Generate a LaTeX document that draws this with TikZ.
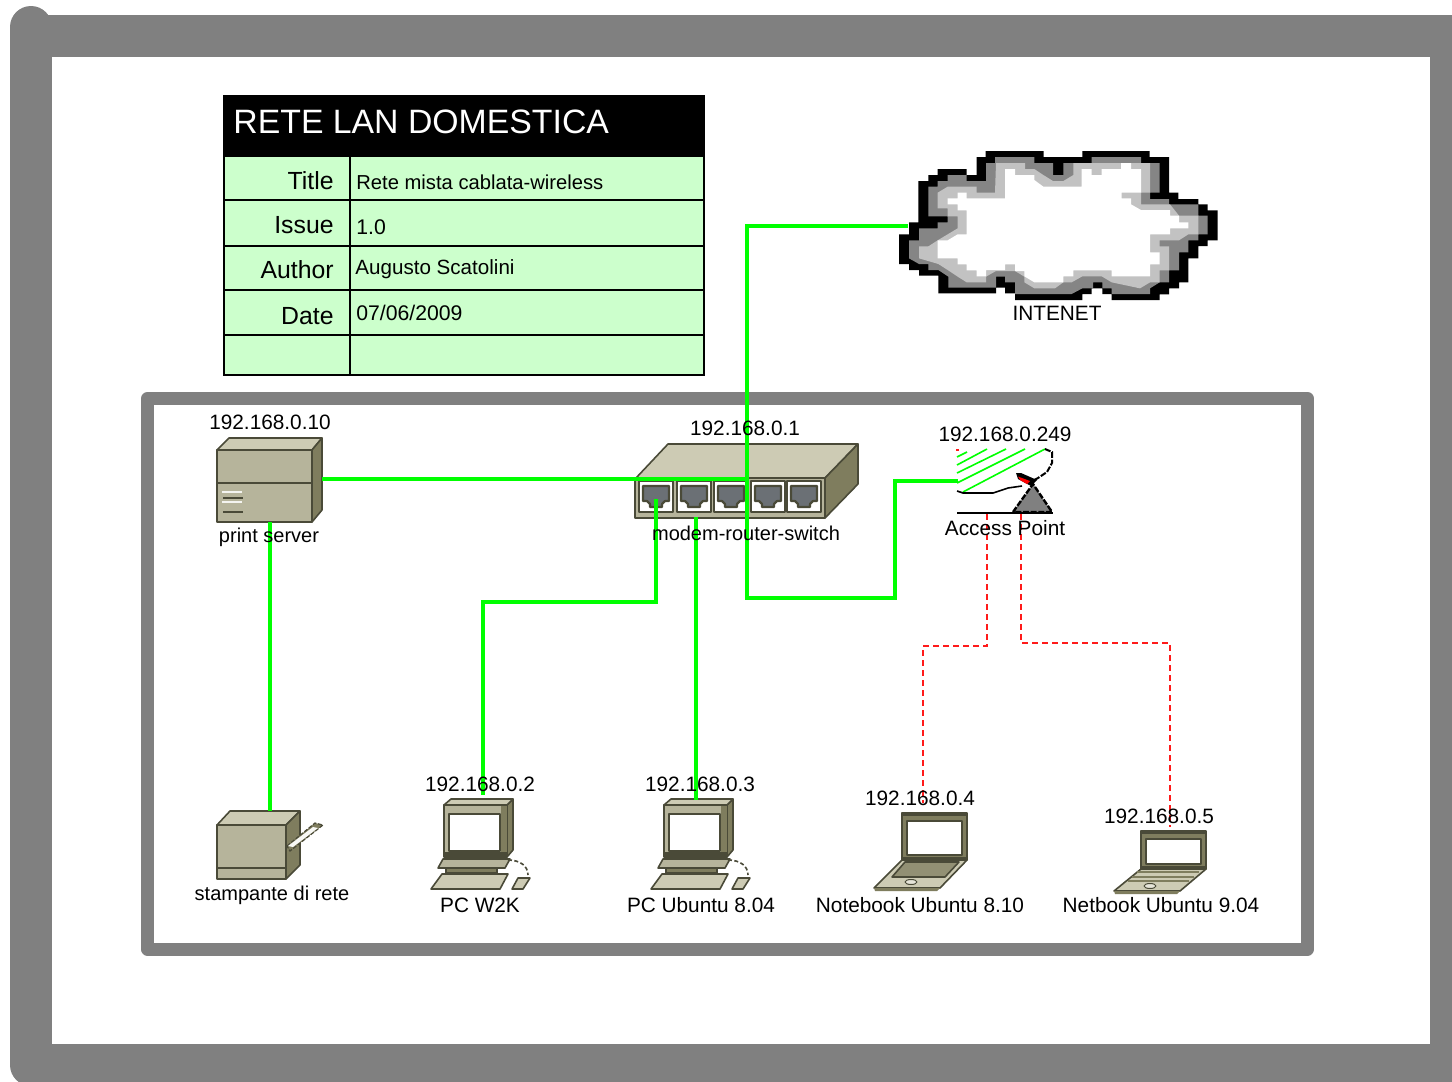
\documentclass[tikz,border=0pt]{standalone}
\usepackage{fontspec}
\setmainfont{Liberation Sans}
\usepackage{xcolor}
\usetikzlibrary{calc}
\usetikzlibrary{positioning}
\definecolor{FrameGray}{HTML}{808080}
\definecolor{RowGreen}{HTML}{CCFFCC}
\definecolor{LinkGreen}{HTML}{00FF00}
\definecolor{LinkRed}{HTML}{FF1A1A}
\definecolor{BoxTop}{HTML}{CDCBB4}
\definecolor{BoxFront}{HTML}{B6B49B}
\definecolor{BoxSide}{HTML}{7F7D5E}
\definecolor{BoxLine}{HTML}{4A4A38}
\definecolor{PortGray}{HTML}{6B7075}
\definecolor{CloudMid}{HTML}{858585}
\definecolor{CloudLight}{HTML}{C2C2C2}
\tikzset{
  icon/.style={draw=BoxLine,line width=0.8pt,line join=round},
  lanlink/.style={LinkGreen,line width=2pt},
  wifilink/.style={LinkRed,line width=1pt,dash pattern=on 3pt off 2pt},
  devtext/.style={inner sep=0pt,font=\fontsize{10.4}{12}\selectfont},
  devsmall/.style={inner sep=0pt,font=\fontsize{10}{12}\selectfont},
  rowname/.style={inner sep=0pt,anchor=east,font=\fontsize{12.4}{14}\selectfont},
  rowtext/.style={inner sep=0pt,anchor=west,font=\fontsize{10.6}{13}\selectfont},
  pcicon/.pic={
    \filldraw[icon,fill=BoxSide] (507,805) -- (513,799) -- (513,850) -- (507,857) -- cycle;
    \filldraw[icon,fill=BoxTop] (444,805) -- (451,799) -- (513,799) -- (507,805) -- cycle;
    \filldraw[icon,fill=BoxFront] (444,805) rectangle (507,857);
    \fill[BoxSide] (501,806) rectangle (506.5,856);
    \fill[BoxLine] (444.5,852) rectangle (506.5,857);
    \filldraw[icon,fill=white] (449,814) rectangle (500,851);
    \filldraw[icon,fill=BoxFront] (438,868) -- (443,859) -- (510,859) -- (505,868) -- cycle;
    \filldraw[icon,fill=BoxSide] (446,868) rectangle (497,873);
    \filldraw[icon,fill=BoxTop] (431,889) -- (442,874) -- (508,874) -- (500,889) -- cycle;
    \filldraw[icon,fill=BoxTop] (512,889) -- (518,878) -- (530,878) -- (523,889) -- cycle;
    \draw[BoxLine,line width=0.8pt,dash pattern=on 2pt off 1.2pt] (508,860) .. controls (520,860) and (528,866) .. (528,875);
  },
}
\newcommand{\laptopicon}[6]{%
  % left, right, screen top, hinge, deck front, deck left
  \filldraw[icon,fill=BoxSide] (#1,#3) rectangle (#2,#4);
  \fill[BoxLine] (#1,#3) rectangle (#2,#3+3);
  \filldraw[icon,fill=white] (#1+5,#3+8) rectangle (#2-5,#4-5);
  \fill[BoxLine] (#1,#4-3) rectangle (#2,#4);
  \filldraw[icon,fill=BoxTop] (#5,#6) -- (#1,#4) -- (#2,#4) -- (#5+66,#6) -- cycle;
  \fill[BoxSide] (#5,#6) -- (#5+66,#6) -- (#5+63,#6+3) -- (#5+1,#6+3) -- cycle;
}

\begin{document}
\begin{tikzpicture}[x=0.5pt,y=-0.5pt]
  \useasboundingbox (0,0) rectangle (1452,1082);
  \clip (0,0) rectangle (1452,1082);
  \fill[white] (0,0) rectangle (1452,1082);

  % outer and inner frames
  \draw[FrameGray,line width=21pt,line cap=round,line join=round]
    (31,27) -- (31,1065) -- (1451,1065) -- (1451,35.5) -- (31,35.5);
  \draw[FrameGray,line width=6.5pt,line join=round] (147.5,398.5) rectangle (1307.5,949);

  % data table
  \fill[RowGreen] (224,157) rectangle (704,375);
  \fill[black] (224,96) rectangle (704,157);
  \foreach \y in {200,246,290,335,375}{%
    \draw[black,line width=0.6pt] (224,\y) -- (704,\y);
  }
  \draw[black,line width=0.6pt] (224,96) rectangle (704,375);
  \draw[black,line width=0.6pt] (350,157) -- (350,375);
  \node[inner sep=0pt,anchor=west,white,font=\fontsize{16.9}{20}\selectfont] (TableHead) at (233,122) {RETE LAN DOMESTICA};
  \foreach \name/\y/\txt in {RowA/181/Title,RowB/225/Issue,RowC/270/Author,RowD/316/Date}{%
    \node[rowname] (\name) at (334,\y) {\txt};
  }
  \node[rowtext,font=\fontsize{10.1}{13}\selectfont] (ValA) at (356,182) {Rete mista cablata-wireless};
  \node[rowtext] (ValB) at (356,227) {1.0};
  \node[rowtext,font=\fontsize{10.3}{13}\selectfont] (ValC) at (355,269) {Augusto Scatolini};
  \node[rowtext] (ValD) at (356,313) {07/06/2009};

  % cloud, traced in 3x pixels of its own box
  \begin{scope}[shift={(895,145)},x=0.16667pt,y=-0.16667pt]
    \fill[black] (272,18) -- (446,18) -- (446,36) -- (562,36) -- (562,18) -- (764,18) -- (764,36) -- (822,36) -- (822,143) -- (850,143) -- (850,162) -- (910,162) -- (910,178) -- (938,178) -- (938,196) -- (968,196) -- (968,286) -- (938,286) -- (938,303) -- (910,303) -- (910,340) -- (880,340) -- (880,412) -- (852,412) -- (852,430) -- (822,430) -- (822,448) -- (794,448) -- (794,465) -- (650,465) -- (650,447) -- (622,447) -- (622,430) -- (590,430) -- (590,447) -- (562,447) -- (562,465) -- (360,465) -- (360,445) -- (330,445) -- (330,428) -- (303,428) -- (303,445) -- (130,445) -- (130,392) -- (72,392) -- (72,375) -- (42,375) -- (42,357) -- (12,357) -- (12,268) -- (42,268) -- (42,232) -- (70,232) -- (70,108) -- (100,108) -- (100,90) -- (128,90) -- (128,72) -- (215,72) -- (215,90) -- (245,90) -- (245,36) -- (272,36) -- cycle;
    \fill[CloudMid] (300,36) -- (418,36) -- (418,54) -- (474,54) -- (474,90) -- (505,90) -- (505,54) -- (590,54) -- (590,36) -- (738,36) -- (738,54) -- (794,54) -- (794,143) -- (765,143) -- (765,162) -- (822,162) -- (822,178) -- (910,178) -- (910,212) -- (938,212) -- (938,268) -- (910,268) -- (910,286) -- (880,286) -- (880,322) -- (852,322) -- (852,376) -- (822,376) -- (822,412) -- (794,412) -- (765,430) -- (765,447) -- (650,447) -- (650,430) -- (622,430) -- (622,412) -- (594,412) -- (594,430) -- (562,430) -- (530,447) -- (360,447) -- (360,412) -- (330,412) -- (330,395) -- (303,395) -- (303,428) -- (160,428) -- (160,395) -- (130,375) -- (100,375) -- (100,357) -- (72,357) -- (42,340) -- (42,286) -- (72,286) -- (72,250) -- (128,250) -- (128,232) -- (158,232) -- (158,214) -- (100,214) -- (100,125) -- (128,125) -- (128,108) -- (158,108) -- (158,90) -- (215,90) -- (215,108) -- (273,108) -- (273,54) -- (300,54) -- cycle;
    \fill[CloudLight] (303,54) -- (390,54) -- (390,72) -- (418,72) -- (445,90) -- (474,108) -- (505,108) -- (535,90) -- (535,54) -- (765,54) -- (765,143) -- (738,143) -- (738,178) -- (825,178) -- (852,212) -- (910,212) -- (910,268) -- (880,268) -- (852,286) -- (794,286) -- (794,304) -- (822,304) -- (822,376) -- (794,376) -- (794,412) -- (765,412) -- (735,430) -- (650,412) -- (620,394) -- (562,394) -- (530,412) -- (505,412) -- (480,430) -- (418,430) -- (388,412) -- (388,395) -- (360,378) -- (303,378) -- (273,395) -- (273,412) -- (215,412) -- (188,395) -- (158,375) -- (130,357) -- (72,340) -- (72,304) -- (100,304) -- (128,286) -- (158,268) -- (188,250) -- (188,214) -- (158,214) -- (158,190) -- (128,190) -- (128,143) -- (158,125) -- (245,125) -- (245,143) -- (300,143) -- cycle;
    \fill[white] (330,72) -- (360,72) -- (360,90) -- (418,90) -- (418,105) -- (445,125) -- (560,125) -- (560,72) -- (590,72) -- (590,90) -- (620,90) -- (620,72) -- (678,72) -- (678,54) -- (708,54) -- (708,72) -- (738,72) -- (738,143) -- (680,143) -- (680,160) -- (708,160) -- (708,178) -- (738,195) -- (825,195) -- (825,212) -- (852,212) -- (852,232) -- (880,232) -- (880,250) -- (825,250) -- (825,268) -- (765,268) -- (765,322) -- (794,322) -- (794,358) -- (765,358) -- (765,394) -- (650,394) -- (650,376) -- (535,376) -- (535,394) -- (505,394) -- (505,412) -- (418,412) -- (388,394) -- (388,378) -- (360,378) -- (360,358) -- (330,358) -- (330,375) -- (273,375) -- (273,394) -- (245,394) -- (245,376) -- (215,376) -- (215,358) -- (188,358) -- (188,340) -- (128,340) -- (128,286) -- (158,286) -- (188,268) -- (215,268) -- (215,196) -- (188,196) -- (188,178) -- (158,178) -- (158,160) -- (188,160) -- (188,143) -- (215,143) -- (215,160) -- (330,160) -- cycle;
  \end{scope}

  % print server
  \filldraw[icon,fill=BoxTop] (217,450) -- (229,438) -- (322,438) -- (312,450) -- cycle;
  \filldraw[icon,fill=BoxSide] (312,450) -- (322,438) -- (322,510) -- (312,522) -- cycle;
  \filldraw[icon,fill=BoxFront] (217,450) rectangle (312,522);
  \draw[icon] (217,483) -- (312,483);
  \foreach \y in {498,512}{%
    \draw[icon] (223,\y) -- (243,\y);
  }
  \foreach \y in {492,502}{%
    \draw[white!85!BoxFront,line width=0.8pt] (222,\y) -- (242,\y);
  }

  % printer
  \filldraw[icon,fill=BoxTop] (217,825) -- (230,811) -- (300,811) -- (286,825) -- cycle;
  \filldraw[icon,fill=BoxSide] (286,825) -- (300,811) -- (300,865) -- (286,879) -- cycle;
  \filldraw[icon,fill=BoxFront] (217,825) rectangle (286,879);
  \draw[icon] (217,868) -- (286,868);
  \filldraw[draw=BoxLine,fill=BoxSide,line width=0.6pt,dash pattern=on 2pt off 0.8pt] (287,846) -- (315,823) -- (323,825) -- (290,851) -- cycle;
  \fill[white!90!BoxFront] (288,846) -- (313,827) -- (318,828) -- (293,847) -- cycle;

  % modem-router-switch
  \filldraw[icon,fill=BoxTop] (636,478) -- (668,444) -- (858,444) -- (825,478) -- cycle;
  \filldraw[icon,fill=BoxSide] (825,478) -- (858,444) -- (858,484) -- (825,518) -- cycle;
  \filldraw[icon,fill=BoxFront] (635,478) rectangle (825,518);
  \foreach \name/\x in {PortA/656,PortB/694,PortC/731,PortD/768,PortE/804}{%
    \coordinate (\name) at (\x,499);
    \filldraw[icon,fill=white] (\x-17,481) rectangle (\x+17,512);
    \filldraw[draw=BoxLine,line width=1.1pt,line join=round,fill=PortGray] (\x-13,486) -- (\x+13,486) -- (\x+13,501) -- (\x+9,501) -- (\x+6,504) -- (\x+6,507) -- (\x-6,507) -- (\x-6,504) -- (\x-9,501) -- (\x-13,501) -- cycle;
  }

  % access point
  \foreach \xa/\ya/\xb/\yb in {957/457/967/452,957/465/987/449,957/473/1006/449,957/483/1025/449,963/492/1045/449}{%
    \draw[LinkGreen,line width=0.8pt] (\xa,\ya) -- (\xb,\yb);
  }
  \fill[LinkRed] (956,449) rectangle (959,451);
  \filldraw[draw=black,fill=FrameGray,line width=1.2pt,dash pattern=on 3pt off 0.8pt] (1013,512) -- (1033,484) -- (1052,512) -- cycle;
  \draw[black,line width=1pt,dash pattern=on 3pt off 0.8pt] (1045,449) -- (1052,452) -- (1052,463) -- (1047,472) -- (1038,478) -- (1030,482);
  \draw[black,line width=0.8pt] (957,491) -- (963,493) -- (993,493) -- (1008,488) -- (1022,486);
  \draw[black,line width=1.2pt] (957,513) -- (1053,513);
  \fill[black] (1016,473) -- (1021,473) -- (1037,480) -- (1031,486) -- (1018,479) -- cycle;
  \fill[red] (1018,476.5) -- (1030,481) -- (1027,484) -- (1020,480) -- cycle;

  % computers
  \pic (PcA) at (0,0) {pcicon};
  \pic (PcB) at (220,0) {pcicon};

  % notebook
  \laptopicon{902}{967}{813}{860}{874}{888}
  \filldraw[icon,fill=BoxSide!75!BoxTop] (892,877) -- (905,862) -- (959,862) -- (945,877) -- cycle;
  \filldraw[icon,line width=0.5pt,fill=white!50!BoxTop] (911,882) ellipse [x radius=6,y radius=2.5];

  % netbook
  \laptopicon{1141}{1206}{831}{869}{1114}{891}
  \foreach \y/\xa/\xb in {872/1137/1199,877/1132/1194,881/1128/1189}{%
    \draw[BoxSide,line width=1.2pt] (\xa,\y) -- (\xb,\y);
  }
  \filldraw[icon,line width=0.5pt,fill=white!50!BoxTop] (1150,886) ellipse [x radius=6,y radius=2.5];

  % connection points
  \coordinate (CloudPort) at (908,226);
  \coordinate (TrunkLow) at (747,598);
  \coordinate (ApBend) at (895,481);
  \coordinate (ApPort) at (958,481);
  \coordinate (ServerPort) at (322,479);
  \coordinate (SwitchMid) at (747,479);
  \coordinate (ServerOut) at (270,522);
  \coordinate (PrinterIn) at (270,811);
  \coordinate (PortABend) at (656,602);
  \coordinate (PcAIn) at (483,795);
  \coordinate (SwitchOut) at (696,517);
  \coordinate (PcBIn) at (696,800);
  \coordinate (ApOutA) at (987,514);
  \coordinate (WifiBendA) at (987,646);
  \coordinate (NotebookIn) at (923,803);
  \coordinate (ApOutB) at (1021,514);
  \coordinate (WifiBendB) at (1021,643);
  \coordinate (NetbookIn) at (1170,827);

  \draw[lanlink] (CloudPort) -| (TrunkLow) -| (ApBend) -- (ApPort);
  \draw[lanlink] (ServerPort) -- (SwitchMid);
  \draw[lanlink] (ServerOut) -- (PrinterIn);
  \draw[lanlink] (PortA) -- (PortABend) -| (PcAIn);
  \draw[lanlink] (SwitchOut) -- (PcBIn);
  \draw[wifilink] (ApOutA) -- (WifiBendA) -| (NotebookIn);
  \draw[wifilink] (ApOutB) -- (WifiBendB) -| (NetbookIn);

  % device texts
  \foreach \name/\x/\y/\txt in {%
    TxtCloud/1057/313/INTENET,
    IpServer/270/422/192.168.0.10,
    IpSwitch/745/428/192.168.0.1,
    IpAp/1005/434/192.168.0.249,
    TxtAp/1005/528/Access Point,
    IpPcA/480/784/192.168.0.2,
    TxtPcA/480/905/PC W2K,
    IpPcB/700/784/192.168.0.3,
    TxtPcB/701/905/PC Ubuntu 8.04,
    IpNotebook/920/798/192.168.0.4,
    TxtNotebook/920/905/Notebook Ubuntu 8.10,
    IpNetbook/1159/816/192.168.0.5,
    TxtNetbook/1161/905/Netbook Ubuntu 9.04}{%
    \node[devtext] (\name) at (\x,\y) {\txt};
  }
  \foreach \name/\x/\y/\txt in {%
    TxtServer/269/537/print server,
    TxtSwitch/746/533/modem-router-switch,
    TxtPrinter/272/895/stampante di rete}{%
    \node[devsmall] (\name) at (\x,\y) {\txt};
  }
\end{tikzpicture}
\end{document}
